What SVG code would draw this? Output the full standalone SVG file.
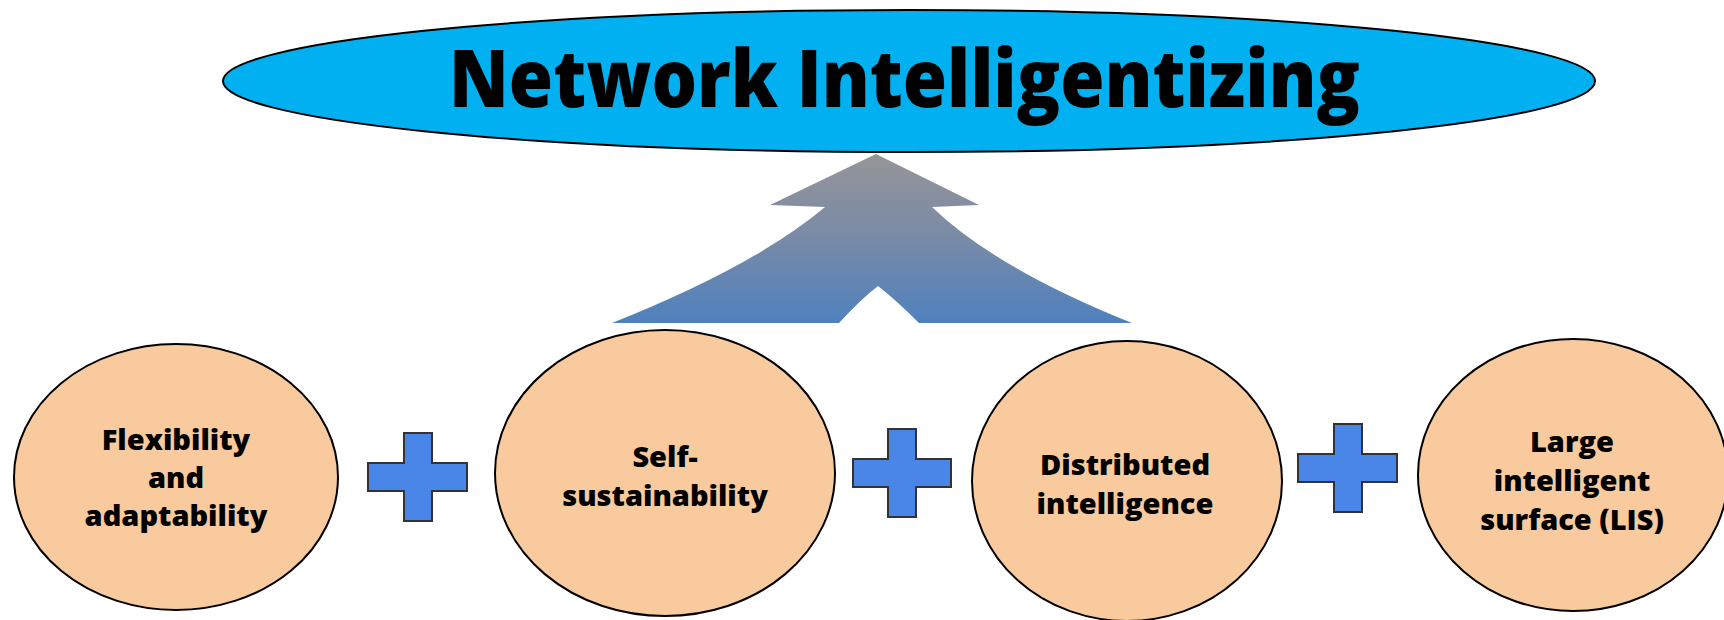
<svg xmlns="http://www.w3.org/2000/svg" width="1724" height="620" viewBox="0 0 1724 620">
  <style>
    .title { font-family: "Open Sans", "Noto Sans", "Liberation Sans", sans-serif; font-weight: 800; font-size: 80px; fill: #000; }
    .label { font-family: "Open Sans", "Noto Sans", "Liberation Sans", sans-serif; font-weight: 800; font-size: 29px; fill: #000; text-anchor: middle; }
    .topic { fill: #F8CA9D; stroke: #000; stroke-width: 2; }
    .plus { fill: #4A86E8; stroke: #333; stroke-width: 2; }
  </style>
  <defs>
    <linearGradient id="riseGrad" x1="0" y1="154" x2="0" y2="323" gradientUnits="userSpaceOnUse">
      <stop offset="0" stop-color="#949598"/>
      <stop offset="0.45" stop-color="#7D8BA6"/>
      <stop offset="1" stop-color="#4F81BD"/>
    </linearGradient>
  </defs>

  <!-- headline goal -->
  <g id="goal">
    <ellipse cx="909" cy="81" rx="686" ry="71" fill="#00B0F0" stroke="#000" stroke-width="2"/>
    <text class="title" x="449" y="107" textLength="911" lengthAdjust="spacingAndGlyphs">Network Intelligentizing</text>
  </g>

  <!-- upward arrow feeding the goal -->
  <g id="connectors">
    <path d="M876,154 L979,205 L932,207 Q995,268 1132,323 L919,323 Q896,300 878,286 Q860,300 839,323 L612,323 Q755,266 825,207 L770,205 Z" fill="url(#riseGrad)"/>
  </g>

  <g id="flexibility">
    <ellipse class="topic" cx="176" cy="477" rx="162" ry="133"/>
    <text class="label" x="176" y="450">Flexibility</text>
    <text class="label" x="176" y="488">and</text>
    <text class="label" x="176" y="526">adaptability</text>
  </g>

  <g id="plus1">
    <path class="plus" d="M404,433 H432 V463 H467 V491 H432 V521 H404 V491 H368 V463 H404 Z"/>
  </g>

  <g id="sustainability">
    <ellipse class="topic" cx="665" cy="473" rx="170" ry="143"/>
    <text class="label" x="665" y="467">Self-</text>
    <text class="label" x="665" y="506">sustainability</text>
  </g>

  <g id="plus2">
    <path class="plus" d="M888,429 H916 V459 H951 V487 H916 V517 H888 V487 H853 V459 H888 Z"/>
  </g>

  <g id="distributed">
    <ellipse class="topic" cx="1127" cy="481" rx="155" ry="140"/>
    <text class="label" x="1125" y="475">Distributed</text>
    <text class="label" x="1125" y="514">intelligence</text>
  </g>

  <g id="plus3">
    <path class="plus" d="M1334,424 H1362 V454 H1397 V482 H1362 V512 H1334 V482 H1298 V454 H1334 Z"/>
  </g>

  <g id="lis">
    <ellipse class="topic" cx="1573" cy="475" rx="155" ry="136"/>
    <text class="label" x="1572" y="452">Large</text>
    <text class="label" x="1572" y="491">intelligent</text>
    <text class="label" x="1572" y="530">surface (LIS)</text>
  </g>
</svg>
